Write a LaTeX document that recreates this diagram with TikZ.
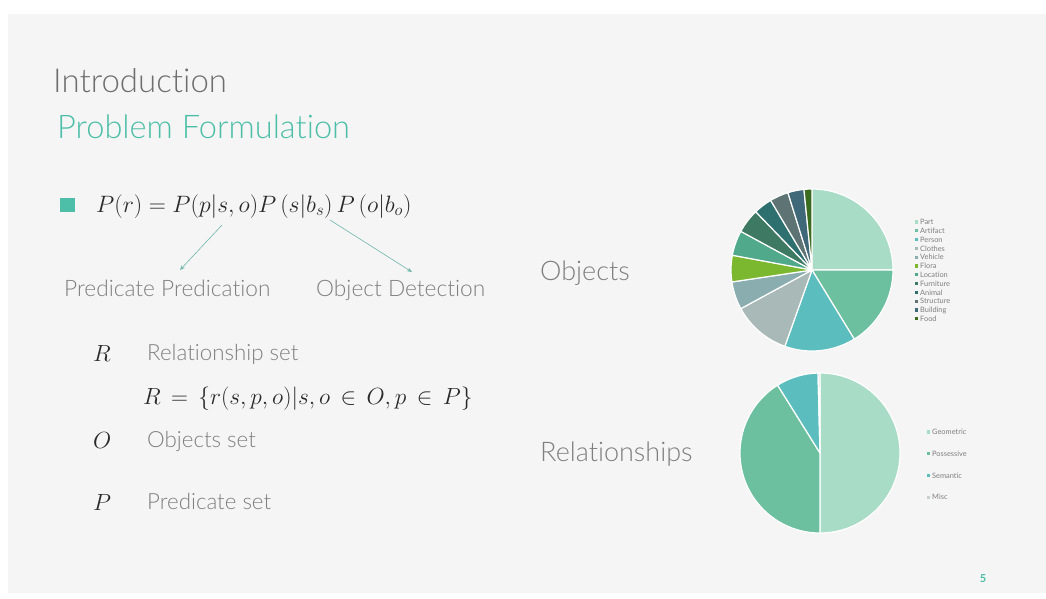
\RequirePackage{fix-cm}
\documentclass[tikz,border=0pt]{standalone}
\usepackage{fontspec}
\setmainfont{Lato Light}[Ligatures=NoCommon]
\newfontfamily\regfont{Lato}[Ligatures=NoCommon]
\definecolor{slidebg}{HTML}{F5F5F5}
\definecolor{titlegray}{HTML}{6E6E6E}
\definecolor{labelgray}{HTML}{7F7F7F}
\definecolor{teal}{HTML}{4DBFA8}
\definecolor{arrowc}{HTML}{6FB5A8}
\definecolor{mathc}{HTML}{2A2A2A}
\definecolor{cPart}{HTML}{A9DCC6}
\definecolor{cArt}{HTML}{6CC0A0}
\definecolor{cPer}{HTML}{5BBDBE}
\definecolor{cClo}{HTML}{A9B9B8}
\definecolor{cVeh}{HTML}{8AAEB0}
\definecolor{cFlo}{HTML}{7CB82F}
\definecolor{cLoc}{HTML}{4FA98A}
\definecolor{cFur}{HTML}{3E7A63}
\definecolor{cAni}{HTML}{2E7070}
\definecolor{cStr}{HTML}{5E7474}
\definecolor{cBui}{HTML}{3F6878}
\definecolor{cFoo}{HTML}{3A6B1E}
\definecolor{cMisc}{HTML}{C8D2D0}
\tikzset{
  txt/.style={anchor=base west, inner sep=0pt, text=labelgray},
  mth/.style={anchor=base west, inner sep=0pt, text=mathc},
  link/.style={draw=arrowc, line width=0.6pt, -{Stealth[length=5pt,width=4pt]}},
  slice/.style={draw=white, line width=1.2pt, line join=round},
  legtxt/.style={anchor=west, inner sep=0pt, text=labelgray, font=\regfont\fontsize{7.4}{8}\selectfont},
}
\usetikzlibrary{arrows.meta}
\begin{document}
\begin{tikzpicture}[x=1pt,y=-1pt]
\useasboundingbox (0,0) rectangle (1046,599);
\fill[white] (0,0) rectangle (1046,599);
\fill[slidebg] (8,14) rectangle (1046,593);

% titles
\node[txt, text=titlegray, font=\fontsize{33}{36}\selectfont] (intro) at (53,93) {Introduction};
\node[txt, text=teal, font=\fontsize{32.6}{35}\selectfont] (prob) at (57,139) {Problem Formulation};

% bullet formula
\fill[teal] (60,198) rectangle (75,212);
\node[mth, font=\fontsize{23.7}{26}\selectfont] (form) at (96,212)
  {$P(r)=P(p|s,o)P\left(s|b_s\right)P\left(o|b_o\right)$};
\coordinate (c1) at (222,225);
\coordinate (c2) at (330,220);
\node[txt, font=\fontsize{22.7}{26}\selectfont] (pp) at (64,296) {Predicate Predication};
\node[txt, font=\fontsize{22.7}{26}\selectfont] (od) at (316,296) {Object Detection};
\coordinate (e1) at (180,270);
\coordinate (e2) at (412,272);
\draw[link] (c1) -- (e1);
\draw[link] (c2) -- (e2);

% sets
\node[mth, font=\fontsize{23.4}{27}\selectfont] (Rsym) at (93,361) {$R$};
\node[txt, font=\fontsize{22.3}{26}\selectfont] (Rtxt) at (147,360) {Relationship set};
\node[mth, font=\fontsize{23.4}{27}\selectfont] (Rdef) at (143,404)
  {$R\,=\,\{r(s,p,o)|s,o\,\in\, O,p\,\in\, P\}$};
\node[mth, font=\fontsize{23.4}{27}\selectfont] (Osym) at (93,448) {$O$};
\node[txt, font=\fontsize{22.3}{26}\selectfont] (Otxt) at (147,447) {Objects set};
\node[mth, font=\fontsize{23.4}{27}\selectfont] (Psym) at (93,510) {$P$};
\node[txt, font=\fontsize{22.3}{26}\selectfont] (Ptxt) at (147,509) {Predicate set};

% right side labels
\node[txt, font=\fontsize{27}{30}\selectfont] (objl) at (540,280) {Objects};
\node[txt, font=\fontsize{27}{30}\selectfont] (rell) at (540,461) {Relationships};

% Objects pie
\coordinate (oc) at (812,270);
\foreach \a/\b/\c in {90/0/cPart, 0/-58.6/cArt, -58.6/-109.6/cPer, -109.6/-151.5/cClo,
  -151.5/-171.5/cVeh, -171.5/-190.5/cFlo, -190.5/-208.5/cLoc, -208.5/-226/cFur,
  -226/-239.3/cAni, -239.3/-252.7/cStr, -252.7/-264.3/cBui, -264.3/-270/cFoo}
  \filldraw[slice, fill=\c] (oc) -- ++(\a:81pt) arc[start angle=\a, end angle=\b, radius=81pt] -- cycle;

% Objects legend
\foreach \n/\c [count=\i from 0] in {Part/cPart, Artifact/cArt, Person/cPer, Clothes/cClo,
  Vehicle/cVeh, Flora/cFlo, Location/cLoc, Furniture/cFur, Animal/cAni,
  Structure/cStr, Building/cBui, Food/cFoo}{
  \fill[\c] (915,{222+8.8*\i-1.6}) rectangle ++(3.2,3.2);
  \node[legtxt] (ol\i) at (920,{222+8.8*\i}) {\n};
}

% Relationships pie
\coordinate (rc) at (820,453);
\foreach \a/\b/\c in {90/-90/cPart, -90/-238/cArt, -238/-268.6/cPer, -268.6/-270/cMisc}
  \filldraw[slice, fill=\c] (rc) -- ++(\a:80pt) arc[start angle=\a, end angle=\b, radius=80pt] -- cycle;

% Relationships legend
\foreach \n/\c [count=\i from 0] in {Geometric/cPart, Possessive/cArt, Semantic/cPer, Misc/cMisc}{
  \fill[\c] (927,{432+21.7*\i-1.6}) rectangle ++(3.2,3.2);
  \node[legtxt] (rl\i) at (932,{432+21.7*\i}) {\n};
}

% page number
\node[anchor=center, inner sep=0pt, text=teal, font=\regfont\bfseries\fontsize{11}{12}\selectfont] (pg) at (983,579) {5};
\end{tikzpicture}
\end{document}
